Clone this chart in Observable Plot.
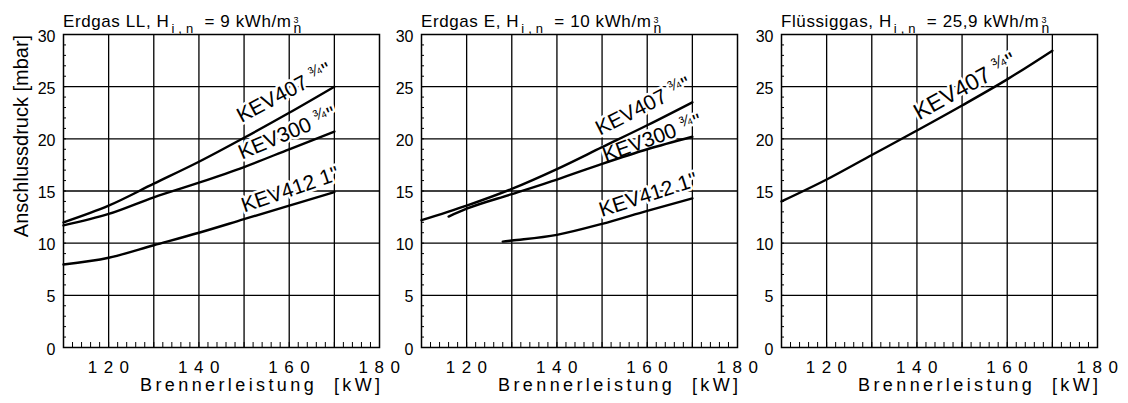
<!DOCTYPE html>
<html><head><meta charset="utf-8">
<script src="https://cdn.jsdelivr.net/npm/d3@7"></script>
<script src="https://cdn.jsdelivr.net/npm/@observablehq/plot@0.6"></script>
<style>
body{margin:0;background:#fff;}
#wrap{position:relative;width:1128px;height:403px;overflow:hidden;font-family:"Liberation Sans",Arial,sans-serif;color:#000;}
.panel{position:absolute;top:0;}
.title{position:absolute;top:13px;font-size:17px;line-height:17px;white-space:nowrap;letter-spacing:0.6px;color:#000;}
.title .sb{font-size:13px;vertical-align:-6px;letter-spacing:4px;margin-left:2px;margin-right:2px;line-height:10px;}
.title .ss{display:inline-block;vertical-align:-6px;margin-left:2px;font-size:14px;line-height:8px;letter-spacing:0;text-align:left;}
.title .ss .u{font-size:9px;}
g[aria-label="x-axis tick label"] text{letter-spacing:6.5px;}
</style></head><body><div id="wrap"></div>
<script>
// ---- data ----
const xTickLabels = [120, 140, 160, 180];
const yTickLabels = [0, 5, 10, 15, 20, 25, 30];
const gasNames = ["Erdgas LL", "Erdgas E", "Flüssiggas"];
const heatingValues = ["9", "10", "25,9"];
const xTitle = "Brennerleistung  [kW]";
const yTitle = "Anschlussdruck [mbar]";

// Erdgas LL
const llPower = [110, 120, 130, 140, 150, 160, 170];
const llKEV407 = [12.0, 13.6, 15.7, 17.8, 20.1, 22.5, 25.0];
const llKEV300 = [11.7, 12.8, 14.4, 15.8, 17.3, 19.0, 20.7];
const llKEV412 = [7.95, 8.6, 9.8, 11.0, 12.3, 13.6, 14.9];
// Erdgas E
const ePower407 = [110, 120, 130, 140, 150, 160, 170];
const eKEV407 = [12.2, 13.6, 15.2, 17.1, 19.2, 21.3, 23.5];
const ePower300 = [116, 120, 130, 140, 150, 160, 170];
const eKEV300 = [12.55, 13.3, 14.7, 16.1, 17.6, 19.0, 20.2];
const ePower412 = [128, 130, 140, 150, 160, 170];
const eKEV412 = [10.15, 10.25, 10.8, 11.85, 13.1, 14.3];
// Flüssiggas
const lpgPower = [110, 120, 130, 140, 150, 160, 170];
const lpgKEV407 = [14.0, 16.1, 18.45, 20.8, 23.2, 25.7, 28.45];

const seriesNames = ["KEV407", "KEV300", "KEV412"];
const connSizes = ["¾\"", "¾\"", "1\""];

// ---- build ----
const series = (name, xs, ys) => xs.map((x, i) => ({name, x, y: ys[i]}));
const panels = [
  {curves: [series(0, llPower, llKEV407), series(1, llPower, llKEV300), series(2, llPower, llKEV412)],
   labels: [{c: 0, i: 5, rotate: -28, dx: -5, dy: -20}, {c: 1, i: 5, rotate: -23, dx: -2, dy: -16}, {c: 2, i: 5, rotate: -19, dx: 1, dy: -16}]},
  {curves: [series(0, ePower407, eKEV407), series(1, ePower300, eKEV300), series(2, ePower412, eKEV412)],
   labels: [{c: 0, i: 5, rotate: -27, dx: -4, dy: -19}, {c: 1, i: 5, rotate: -20, dx: 5, dy: -11}, {c: 2, i: 4, rotate: -18, dx: 1, dy: -16}]},
  {curves: [series(0, lpgPower, lpgKEV407)],
   labels: [{c: 0, i: 4, rotate: -29, dx: 3, dy: -19, size: 23}]}
];
const offsets = [0, 358, 718];
const font = '"Liberation Sans", Arial, sans-serif';
const wrap = document.getElementById("wrap");

panels.forEach((p, k) => {
  const marks = [
    Plot.gridX([120, 130, 140, 150, 160, 170], {stroke: "black", strokeOpacity: 1, strokeWidth: 1.3}),
    Plot.gridY([5, 10, 15, 20, 25], {stroke: "black", strokeOpacity: 1, strokeWidth: 1.3}),
    Plot.axisX({ticks: d3.range(110, 181, 2), tickSize: -5, tickFormat: () => "", label: null, strokeWidth: 1}),
    Plot.axisY({ticks: d3.range(0, 31, 1), tickSize: -3, tickFormat: () => "", label: null, strokeWidth: 1}),
    Plot.axisX({ticks: xTickLabels, tickSize: 0, tickPadding: 13, fontSize: 17, dx: 3, label: null}),
    Plot.axisY({ticks: yTickLabels, tickSize: 0, tickPadding: 8, fontSize: 16, dy: 2, label: null}),
    ...p.labels.map(l => {
      const pt = p.curves[l.c][l.i];
      return Plot.text([pt], {x: "x", y: "y", text: () => seriesNames[pt.name] + " " + connSizes[pt.name],
        rotate: l.rotate, dx: l.dx, dy: l.dy, fontSize: l.size || 21, fill: "black",
        stroke: "white", strokeWidth: 5, paintOrder: "stroke", textAnchor: "middle", lineAnchor: "middle"});
    }),
    ...p.curves.map(c => Plot.line(c, {x: "x", y: "y", stroke: "black", strokeWidth: 2.4, curve: "monotone-x"})),
    Plot.frame({stroke: "black", strokeWidth: 1.5}),
    Plot.text([xTitle], {frameAnchor: "bottom-right", text: d => d, textAnchor: "end", lineAnchor: "middle", dy: 38, dx: 4, fontSize: 18, fill: "black"})
  ];
  if (k === 0) marks.push(Plot.text([yTitle], {frameAnchor: "left", text: d => d, rotate: -90, dx: -42, dy: -55, fontSize: 20, fill: "black", textAnchor: "middle", lineAnchor: "middle"}));
  const svg = Plot.plot({
    width: 400, height: 403,
    marginLeft: 63, marginRight: 21, marginTop: 34, marginBottom: 56,
    x: {domain: [110, 180]}, y: {domain: [0, 30]},
    style: {background: "transparent", overflow: "visible", fontFamily: font, color: "black"},
    marks
  });
  const div = document.createElement("div");
  div.className = "panel";
  div.style.left = offsets[k] + "px";
  div.appendChild(svg);
  wrap.appendChild(div);
  svg.querySelectorAll("text").forEach(t => {
    if (t.textContent === xTitle) t.style.letterSpacing = "3.4px";
    if (t.textContent.includes("¾")) {
      const [a, b] = t.textContent.split("¾");
      t.textContent = "";
      const ns = "http://www.w3.org/2000/svg";
      const s1 = document.createElementNS(ns, "tspan"); s1.textContent = a;
      const s2 = document.createElementNS(ns, "tspan"); s2.textContent = "¾"; s2.setAttribute("font-size", "0.72em"); s2.setAttribute("dy", "-7");
      const s3 = document.createElementNS(ns, "tspan"); s3.textContent = b; s3.setAttribute("dy", "7"); s3.setAttribute("dx", "1");
      t.append(s1, s2, s3);
    }
  });
  const title = document.createElement("div");
  title.className = "title";
  title.style.left = (offsets[k] + 63) + "px";
  title.innerHTML = `${gasNames[k]}, H<span class="sb">i,n</span> = ${heatingValues[k]} kWh/m<span class="ss"><span class="u">3</span><br>n</span>`;
  wrap.appendChild(title);
});
</script>
</body></html>
